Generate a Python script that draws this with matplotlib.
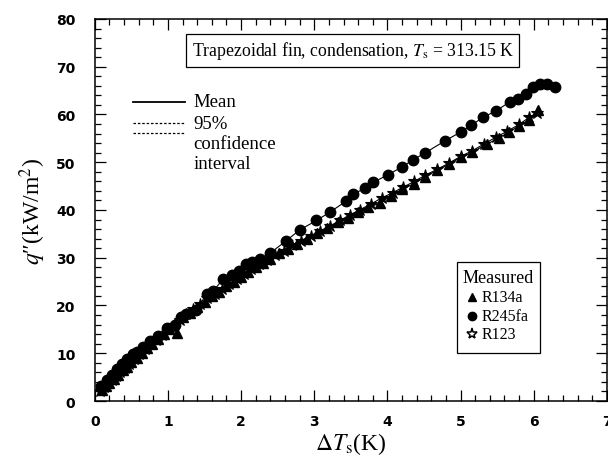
import matplotlib
matplotlib.use("Agg")
import matplotlib.pyplot as plt
from matplotlib.patches import Rectangle
from matplotlib.ticker import MultipleLocator

plt.rcParams['mathtext.fontset'] = 'stix'

# R134a (triangles)
r134a_dt = [0.10, 0.15, 0.20, 0.26, 0.32, 0.38, 0.44, 0.50, 0.57, 0.64, 0.71, 0.78, 0.86,
            0.94, 1.02, 1.13, 1.20, 1.30, 1.40, 1.50, 1.60, 1.70, 1.80, 1.90, 2.00, 2.10,
            2.20, 2.30, 2.40, 2.52, 2.64, 2.76, 2.90, 3.04, 3.18, 3.32, 3.46, 3.60, 3.74,
            3.90, 4.05, 4.20, 4.36, 4.52, 4.68, 4.84, 5.00, 5.16, 5.36, 5.52, 5.66, 5.80,
            5.94, 6.06]
r134a_q = [2.4, 3.1, 3.8, 4.7, 5.5, 6.4, 7.2, 8.1, 9.0, 10.1, 11.0, 12.0, 12.9,
           14.0, 15.0, 14.2, 17.5, 18.4, 19.6, 20.8, 21.9, 22.8, 24.0, 25.0, 26.0, 27.1,
           28.0, 28.9, 29.8, 30.9, 31.9, 32.9, 34.0, 35.1, 36.2, 37.4, 38.3, 39.6, 40.6,
           41.4, 43.0, 44.3, 45.5, 47.0, 48.3, 49.6, 51.0, 52.1, 53.8, 55.0, 56.3, 57.6,
           58.9, 61.0]

# R245fa (circles)
r245fa_dt = [0.09, 0.17, 0.24, 0.30, 0.37, 0.44, 0.52, 0.57, 0.66, 0.75, 0.86, 0.98, 1.10,
             1.18, 1.25, 1.38, 1.53, 1.62, 1.75, 1.88, 1.97, 2.07, 2.15, 2.26, 2.40, 2.62,
             2.80, 3.03, 3.21, 3.44, 3.53, 3.70, 3.81, 4.01, 4.20, 4.35, 4.51, 4.79, 5.00,
             5.15, 5.31, 5.49, 5.67, 5.79, 5.90, 5.99, 6.08, 6.18, 6.29]
r245fa_q = [3.2, 4.4, 5.5, 6.7, 7.8, 8.9, 9.9, 10.2, 11.3, 12.6, 13.6, 15.2, 16.0,
            17.5, 18.2, 19.0, 22.4, 23.0, 25.5, 26.3, 27.2, 28.7, 29.2, 29.7, 31.0, 33.6,
            35.8, 37.8, 39.5, 41.9, 43.4, 44.5, 45.8, 47.4, 49.0, 50.5, 51.9, 54.5, 56.3,
            57.8, 59.4, 60.8, 62.6, 63.2, 64.3, 65.7, 66.4, 66.4, 65.7]

# R123 (stars)
r123_dt = [0.07, 0.12, 0.18, 0.23, 0.29, 0.35, 0.41, 0.47, 0.54, 0.61, 0.68, 0.76, 0.84,
           0.92, 1.00, 1.08, 1.16, 1.25, 1.34, 1.44, 1.54, 1.64, 1.74, 1.84, 1.94, 2.04,
           2.14, 2.25, 2.36, 2.47, 2.58, 2.70, 2.82, 2.95, 3.08, 3.21, 3.35, 3.49, 3.63,
           3.77, 3.92, 4.07, 4.22, 4.37, 4.52, 4.68, 4.84, 5.00, 5.16, 5.32, 5.48, 5.64,
           5.80, 5.94, 6.04]
r123_q = [2.1, 2.9, 3.7, 4.4, 5.3, 6.1, 7.0, 7.8, 8.8, 9.8, 10.8, 11.9, 12.8,
          13.9, 15.0, 16.0, 17.0, 18.3, 19.2, 20.4, 21.5, 22.4, 23.4, 24.6, 25.6, 26.5,
          27.6, 28.6, 29.6, 30.5, 31.5, 32.6, 33.6, 34.6, 35.6, 36.6, 37.8, 39.0, 40.1,
          41.2, 42.5, 43.6, 44.8, 46.0, 47.3, 48.5, 49.8, 51.2, 52.4, 53.8, 55.2, 56.5,
          57.9, 59.4, 60.3]

fig = plt.figure(figsize=(6.08, 4.64), dpi=100)
ax = fig.add_axes([0.156, 0.1336, 0.842, 0.8234])

# mean lines through the data
for xs, ys in [(r134a_dt, r134a_q), (r245fa_dt, r245fa_q), (r123_dt, r123_q)]:
    ax.plot(xs, ys, color='black', lw=0.8, zorder=2)

ax.plot(r123_dt, r123_q, ls='none', marker='*', ms=9, mfc='black', mec='black', mew=0.8, zorder=3)
ax.plot(r134a_dt, r134a_q, ls='none', marker='^', ms=7, color='black', zorder=4)
ax.plot(r245fa_dt, r245fa_q, ls='none', marker='o', ms=7.5, color='black', zorder=5)

ax.set_xlim(0, 7)
ax.set_ylim(0, 80)
ax.xaxis.set_major_locator(MultipleLocator(1))
ax.xaxis.set_minor_locator(MultipleLocator(0.2))
ax.yaxis.set_major_locator(MultipleLocator(10))
ax.yaxis.set_minor_locator(MultipleLocator(2))
ax.tick_params(which='both', direction='in', top=True, right=True, width=0.9)
ax.tick_params(which='major', length=8)
ax.tick_params(which='minor', length=4)
ax.tick_params(axis='y', which='major', pad=14)
ax.tick_params(axis='x', which='major', pad=9)
for lab in ax.get_xticklabels() + ax.get_yticklabels():
    lab.set_fontsize(10)
    lab.set_family('DejaVu Sans')
    lab.set_fontweight('bold')
for s in ax.spines.values():
    s.set_linewidth(1.1)

ax.set_xlabel(r"$\Delta T_\mathrm{s}$(K)", fontsize=17, family='Liberation Serif', labelpad=2)
ax.set_ylabel("$q$\u2033(kW/m$^2$)", fontsize=17, family='Liberation Serif', labelpad=6)

serif = 'Liberation Serif'
ax.text(0.504, 0.918, r"Trapezoidal fin, condensation, $T_\mathrm{s}$ = 313.15 K",
        transform=ax.transAxes, ha='center', va='center', fontsize=12.8, family=serif,
        bbox=dict(boxstyle='square,pad=0.3', fc='white', ec='black', lw=0.9))

# mean / confidence key
ax.plot([0.074, 0.176], [0.783, 0.783], transform=ax.transAxes, color='black', lw=1.3)
ax.plot([0.074, 0.176], [0.728, 0.728], transform=ax.transAxes, color='black', lw=0.9, ls=(0, (2, 1.5)))
ax.plot([0.074, 0.176], [0.702, 0.702], transform=ax.transAxes, color='black', lw=0.9, ls=(0, (2, 1.5)))
ax.text(0.193, 0.785, "Mean", transform=ax.transAxes, va='center', fontsize=13.5, family=serif)
ax.text(0.193, 0.727, "95%", transform=ax.transAxes, va='center', fontsize=13.5, family=serif)
ax.text(0.193, 0.674, "confidence", transform=ax.transAxes, va='center', fontsize=13.5, family=serif)
ax.text(0.193, 0.621, "interval", transform=ax.transAxes, va='center', fontsize=13.5, family=serif)

# measured key
ax.add_patch(Rectangle((0.707, 0.126), 0.163, 0.237, transform=ax.transAxes,
                       fill=False, ec='black', lw=0.9))
ax.text(0.787, 0.322, "Measured", transform=ax.transAxes, ha='center', va='center',
        fontsize=13, family=serif)
keys = [('^', 'R134a', 0.271, 'black'), ('o', 'R245fa', 0.223, 'black'), ('*', 'R123', 0.175, 'white')]
for m, name, yy, fc in keys:
    ax.plot([0.736], [yy], transform=ax.transAxes, marker=m, ms=6 if m != '*' else 8,
            mfc=fc, mec='black', mew=1.1 if m == '*' else 1, ls='none')
    ax.text(0.755, yy, name, transform=ax.transAxes, va='center', fontsize=11.5, family=serif)

fig.savefig('out.png', dpi=100)
